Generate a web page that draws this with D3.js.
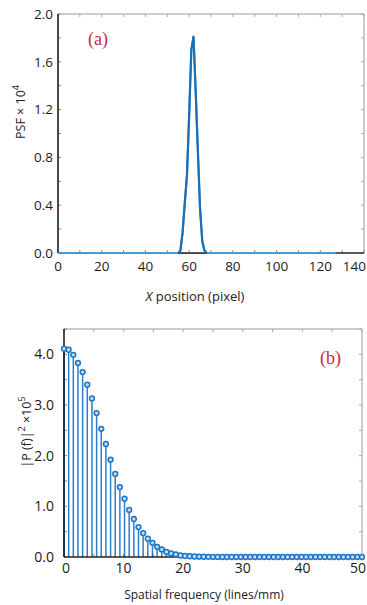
<!DOCTYPE html>
<html>
<head>
<meta charset="utf-8">
<script src="https://cdn.jsdelivr.net/npm/d3@7"></script>
<style>
  body { margin: 0; background: #fff; }
  svg { display: block; font-family: "Open Sans", sans-serif; }
  .tick-label { fill: #1a1a1a; }
  .panel-tag { font-family: "Liberation Serif", "DejaVu Serif", serif; fill: #c8283e; }
</style>
</head>
<body>
<svg id="chart" width="367" height="605"></svg>
<script>
// panel (a): PSF along x, pixel 0..127, nonzero only around the peak
const psfPeakX = [55, 56, 57, 58, 59, 60, 61, 62, 63, 64, 65, 66, 67, 68];
const psfPeakY = [0, 0.02, 0.17, 0.42, 0.65, 1.15, 1.70, 1.81, 1.35, 0.85, 0.37, 0.10, 0.02, 0];
const psfLength = 128;
const psfYTicks = [0, 0.4, 0.8, 1.2, 1.6, 2.0];
const psfXTicks = [0, 20, 40, 60, 80, 100, 120, 140];

// panel (b): |P(f)|^2 x 1e5, 65 samples from 0 to 50 lines/mm
const powerValues = [4.11, 4.09, 3.99, 3.83, 3.65, 3.40, 3.13, 2.84, 2.53, 2.23,
  1.92, 1.64, 1.38, 1.15, 0.93, 0.75, 0.59, 0.47, 0.36, 0.28,
  0.20, 0.15, 0.10, 0.07, 0.05, 0.03, 0.02, 0.015, 0.01, 0.007,
  0.005, 0.003, 0.002, 0.001, 0, 0, 0, 0, 0, 0,
  0, 0, 0, 0, 0, 0, 0, 0, 0, 0,
  0, 0, 0, 0, 0, 0, 0, 0, 0, 0,
  0, 0, 0, 0, 0];
const freqMax = 50;
const powerYTicks = [0, 1, 2, 3, 4];
const freqTicks = [0, 10, 20, 30, 40, 50];

const svg = d3.select('#chart');
const W = 367;

// build full psf series from the peak samples
const psfData = d3.range(psfLength).map(i => {
  const k = psfPeakX.indexOf(i);
  return { x: i, y: k >= 0 ? psfPeakY[k] : 0 };
});

function drawFrame(g, x, y, xMinor, yMinor) {
  const [x0, x1] = x.range();
  const [y0, y1] = y.range();
  // top and right in gray, left and bottom in black
  g.append('line').attr('x1', x0).attr('x2', x1).attr('y1', y1).attr('y2', y1)
    .attr('stroke', '#9a9a9a').attr('stroke-width', 1);
  g.append('line').attr('x1', x1).attr('x2', x1).attr('y1', y1).attr('y2', y0)
    .attr('stroke', '#9a9a9a').attr('stroke-width', 1);

  const tl = 3;
  xMinor.forEach(v => {
    g.append('line').attr('x1', x(v)).attr('x2', x(v)).attr('y1', y0).attr('y2', y0 - tl)
      .attr('stroke', '#888');
    g.append('line').attr('x1', x(v)).attr('x2', x(v)).attr('y1', y1).attr('y2', y1 + tl)
      .attr('stroke', '#aaa');
  });
  yMinor.forEach(v => {
    g.append('line').attr('x1', x0).attr('x2', x0 + tl).attr('y1', y(v)).attr('y2', y(v))
      .attr('stroke', '#888');
    g.append('line').attr('x1', x1).attr('x2', x1 - tl).attr('y1', y(v)).attr('y2', y(v))
      .attr('stroke', '#aaa');
  });
}

function drawAxesLines(g, x, y) {
  const [x0, x1] = x.range();
  const [y0, y1] = y.range();
  g.append('line').attr('x1', x0).attr('x2', x1).attr('y1', y0).attr('y2', y0)
    .attr('stroke', '#222').attr('stroke-width', 1.5);
  g.append('line').attr('x1', x0).attr('x2', x0).attr('y1', y0).attr('y2', y1)
    .attr('stroke', '#111').attr('stroke-width', 1.5);
}

// last label sits on the right edge; keep it inside the page
function edgeX(px) {
  return Math.min(px, W - 1);
}

// ---------- panel (a)
const xa = d3.scaleLinear().domain([0, 140]).range([58, 364]);
const ya = d3.scaleLinear().domain([0, 2]).range([253, 14]);
const ga = svg.append('g');

drawFrame(ga, xa, ya, d3.range(0, 141, 10), d3.range(0, 2.01, 0.2));
drawAxesLines(ga, xa, ya);

ga.selectAll('.ytl').data(psfYTicks).enter().append('text')
  .attr('class', 'tick-label')
  .attr('x', 53).attr('y', d => ya(d)).attr('dy', '0.35em')
  .attr('text-anchor', 'end').attr('font-size', 13.5)
  .text(d => d.toFixed(1));

ga.selectAll('.xtl').data(psfXTicks).enter().append('text')
  .attr('class', 'tick-label')
  .attr('x', (d, i) => i === psfXTicks.length - 1 ? edgeX(xa(d) + 12) : xa(d))
  .attr('y', 266).attr('dy', '0.35em')
  .attr('text-anchor', (d, i) => i === psfXTicks.length - 1 ? 'end' : 'middle')
  .attr('font-size', 13.5)
  .text(d => d);

const lineA = d3.line().x(d => xa(d.x)).y(d => ya(d.y));
// zero baseline drawn lighter, peak darker
ga.append('path').datum(psfData)
  .attr('d', lineA).attr('fill', 'none')
  .attr('stroke', '#3d9be0').attr('stroke-width', 2);
ga.append('path').datum(psfData.filter(d => d.x >= psfPeakX[0] && d.x <= psfPeakX[psfPeakX.length - 1]))
  .attr('d', lineA).attr('fill', 'none')
  .attr('stroke', '#1d6db5').attr('stroke-width', 2.2)
  .attr('stroke-linejoin', 'round');
// axis visible under the peak's feet
ga.append('line').attr('x1', xa(psfPeakX[0])).attr('x2', xa(psfPeakX[psfPeakX.length - 1]))
  .attr('y1', ya(0) + 0.5).attr('y2', ya(0) + 0.5)
  .attr('stroke', '#444').attr('stroke-width', 1);

ga.append('text').attr('class', 'panel-tag')
  .attr('x', 88).attr('y', 45).attr('font-size', 18).text('(a)');

ga.append('text')
  .attr('transform', 'translate(25,112) rotate(-90)')
  .attr('text-anchor', 'middle').attr('font-size', 12.5).attr('fill', '#222')
  .call(t => {
    t.append('tspan').text('PSF \u00d7 10');
    t.append('tspan').attr('font-size', 9).attr('dy', -6).text('4');
  });

ga.append('text')
  .attr('x', 195).attr('y', 301)
  .attr('text-anchor', 'middle').attr('font-size', 13).attr('fill', '#222')
  .call(t => {
    t.append('tspan').attr('font-style', 'italic').text('X');
    t.append('tspan').text(' position (pixel)');
  });

// ---------- panel (b)
const xb = d3.scaleLinear().domain([0, freqMax]).range([64, 362]);
const yb = d3.scaleLinear().domain([0, 4.5]).range([557, 329]);
const gb = svg.append('g');

drawFrame(gb, xb, yb, d3.range(0, 51, 5), d3.range(0, 4.51, 0.5));

const powerData = powerValues.map((v, i) => ({ f: i * freqMax / (powerValues.length - 1), p: v }));

gb.selectAll('.stem').data(powerData).enter().append('line')
  .attr('x1', d => xb(d.f)).attr('x2', d => xb(d.f))
  .attr('y1', yb(0)).attr('y2', d => yb(d.p))
  .attr('stroke', '#2a7fcc').attr('stroke-width', 1.5);

drawAxesLines(gb, xb, yb);

gb.selectAll('.dot').data(powerData).enter().append('circle')
  .attr('cx', d => xb(d.f)).attr('cy', d => yb(d.p)).attr('r', 2.4)
  .attr('fill', '#c3def5').attr('stroke', '#1c74c2').attr('stroke-width', 1.5);

gb.selectAll('.ytl').data(powerYTicks).enter().append('text')
  .attr('class', 'tick-label')
  .attr('x', 54).attr('y', d => yb(d)).attr('dy', '0.35em')
  .attr('text-anchor', 'end').attr('font-size', 14)
  .text(d => d.toFixed(1));

gb.selectAll('.xtl').data(freqTicks).enter().append('text')
  .attr('class', 'tick-label')
  .attr('x', (d, i) => i === freqTicks.length - 1 ? edgeX(xb(d) + 8) : xb(d) + (d === 0 ? 2 : 0))
  .attr('y', 568).attr('dy', '0.35em')
  .attr('text-anchor', (d, i) => i === freqTicks.length - 1 ? 'end' : 'middle')
  .attr('font-size', 14)
  .text(d => d);

gb.append('text').attr('class', 'panel-tag')
  .attr('x', 320).attr('y', 364).attr('font-size', 18).text('(b)');

gb.append('text')
  .attr('transform', 'translate(31,432) rotate(-90)')
  .attr('text-anchor', 'middle').attr('font-size', 12.5).attr('fill', '#222')
  .call(t => {
    t.append('tspan').text('|P (f)|');
    t.append('tspan').attr('font-size', 9).attr('dy', -6).text('2');
    t.append('tspan').attr('dy', 6).text(' \u00d710');
    t.append('tspan').attr('font-size', 9).attr('dy', -6).text('5');
  });

gb.append('text')
  .attr('x', 204).attr('y', 599)
  .attr('text-anchor', 'middle').attr('font-size', 12).attr('fill', '#222')
  .text('Spatial frequency (lines/mm)');
</script>
</body>
</html>
